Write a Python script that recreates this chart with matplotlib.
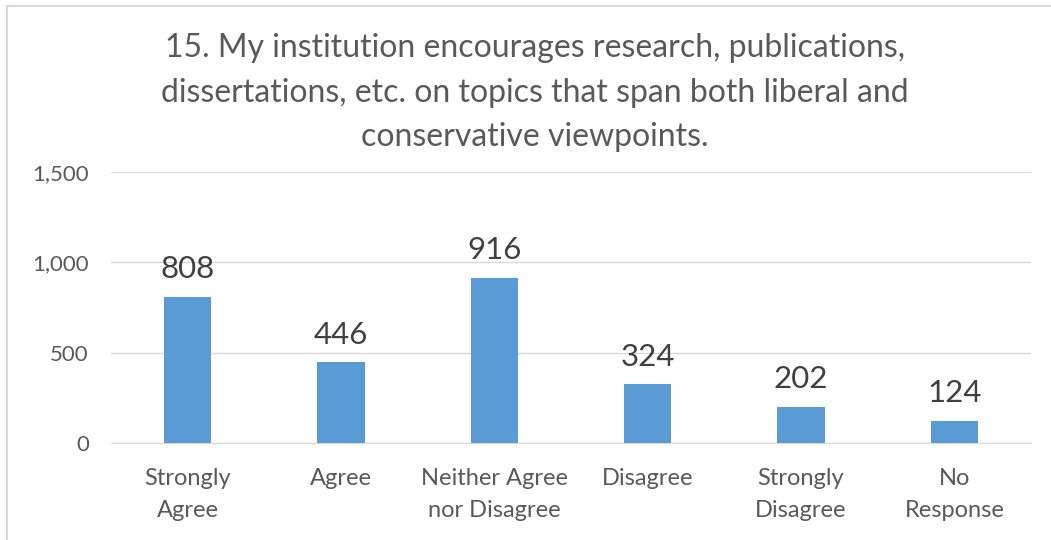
import matplotlib.pyplot as plt
from matplotlib.patches import Rectangle
from matplotlib.ticker import FuncFormatter

categories = ['Strongly\nAgree', 'Agree', 'Neither Agree\nnor Disagree', 'Disagree',
              'Strongly\nDisagree', 'No\nResponse']
counts = [808, 446, 916, 324, 202, 124]
yticks = [0, 500, 1000, 1500]
title = ('15. My institution encourages research, publications,\n'
         'dissertations, etc. on topics that span both liberal and\n'
         'conservative viewpoints.')

plt.rcParams['font.family'] = ['Lato', 'DejaVu Sans']

fig = plt.figure(figsize=(10.51, 5.40), dpi=100)
ax = fig.add_axes([0.1056, 0.1796, 0.8754, 0.5019])

x = range(len(categories))
bars = ax.bar(x, counts, width=0.31, color='#5B9BD5', zorder=3)

for xi, v in zip(x, counts):
    ax.text(xi, v + 75, str(v), ha='center', va='bottom', fontsize=22.5, color='#404040')

ax.set_xlim(-0.5, len(categories) - 0.5)
ax.set_ylim(0, 1500)
ax.set_yticks(yticks)
ax.yaxis.set_major_formatter(FuncFormatter(lambda v, p: f'{int(v):,}'))
ax.set_xticks(list(x))
ax.set_xticklabels(categories, fontsize=17, color='#595959', linespacing=1.65)
ax.tick_params(axis='y', labelsize=16, labelcolor='#595959', length=0, pad=16)
ax.tick_params(axis='x', length=0, pad=18)
ax.grid(axis='y', color='#D9D9D9', linewidth=1, zorder=0)
for s in ['top', 'right', 'left']:
    ax.spines[s].set_visible(False)
ax.spines['bottom'].set_color('#D9D9D9')

fig.text(0.509, 0.938, title, ha='center', va='top', fontsize=23, color='#595959',
         linespacing=1.6)

# outer chart border (cropped on right and bottom)
fig.patches.append(Rectangle((7 / 1051, -0.05), 1.2, 1 - 6 / 540 + 0.05,
                             transform=fig.transFigure, fill=False,
                             edgecolor='#D9D9D9', linewidth=1.5))

fig.savefig('out.png', dpi=100)
